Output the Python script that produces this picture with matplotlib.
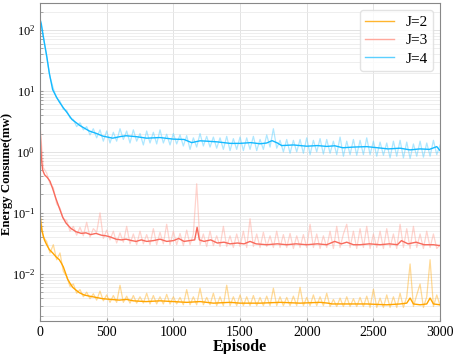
import numpy as np
import matplotlib
matplotlib.use('Agg')
import matplotlib.pyplot as plt

# raw energy per episode, sampled every 25 episodes
episodes = np.arange(0, 3001, 25)

raw_j2 = [0.1, 0.04, 0.034, 0.022, 0.03, 0.017, 0.022, 0.011, 0.009, 0.0062,
          0.0068, 0.0048, 0.0055, 0.0042, 0.005, 0.0039, 0.0047, 0.0037, 0.0052, 0.0036,
          0.0045, 0.0034, 0.0044, 0.0034, 0.0065, 0.0034, 0.0043, 0.0033, 0.0044, 0.0033,
          0.0042, 0.0033, 0.0048, 0.0032, 0.0044, 0.0032, 0.0042, 0.0032, 0.0046, 0.0032,
          0.0042, 0.0032, 0.0041, 0.0031, 0.0055, 0.0031, 0.0042, 0.0031, 0.0058, 0.0031,
          0.0041, 0.0031, 0.0048, 0.003, 0.0042, 0.003, 0.0065, 0.003, 0.0042, 0.003,
          0.0045, 0.003, 0.0042, 0.003, 0.0044, 0.003, 0.0041, 0.003, 0.0043, 0.003,
          0.0058, 0.003, 0.0042, 0.003, 0.0041, 0.003, 0.0043, 0.003, 0.006, 0.003,
          0.0041, 0.003, 0.0045, 0.003, 0.0042, 0.003, 0.0048, 0.0029, 0.0038, 0.0029,
          0.004, 0.0029, 0.0042, 0.0029, 0.0039, 0.0029, 0.0041, 0.0029, 0.0043, 0.0028,
          0.0056, 0.0028, 0.004, 0.0028, 0.0045, 0.0028, 0.0042, 0.0028, 0.0048, 0.0028,
          0.0042, 0.0145, 0.0029, 0.0045, 0.0068, 0.0028, 0.0042, 0.017, 0.0029, 0.0045,
          0.003]

raw_j3 = [2.8, 0.55, 0.45, 0.30, 0.26, 0.14, 0.12, 0.08, 0.075, 0.05,
          0.06, 0.043, 0.058, 0.042, 0.07, 0.04, 0.055, 0.048, 0.1, 0.038,
          0.052, 0.036, 0.05, 0.032, 0.047, 0.033, 0.06, 0.031, 0.045, 0.03,
          0.05, 0.031, 0.044, 0.03, 0.055, 0.03, 0.048, 0.031, 0.065, 0.03,
          0.05, 0.03, 0.046, 0.029, 0.052, 0.03, 0.045, 0.30, 0.03, 0.045,
          0.028, 0.05, 0.029, 0.042, 0.028, 0.06, 0.028, 0.042, 0.027, 0.045,
          0.028, 0.05, 0.027, 0.08, 0.028, 0.045, 0.027, 0.048, 0.028, 0.042,
          0.027, 0.05, 0.027, 0.044, 0.027, 0.046, 0.026, 0.042, 0.027, 0.044,
          0.027, 0.065, 0.027, 0.045, 0.026, 0.042, 0.027, 0.05, 0.026, 0.06,
          0.027, 0.045, 0.065, 0.027, 0.05, 0.026, 0.055, 0.027, 0.06, 0.026,
          0.045, 0.027, 0.05, 0.026, 0.055, 0.027, 0.045, 0.026, 0.065, 0.027,
          0.055, 0.026, 0.06, 0.027, 0.045, 0.026, 0.05, 0.027, 0.045, 0.026,
          0.03]

raw_j4 = [160, 78, 36, 17, 11, 7.6, 6.8, 5.0, 4.8, 3.6,
          3.4, 2.6, 3.0, 2.3, 2.6, 1.9, 2.4, 1.7, 2.3, 1.5,
          2.2, 1.4, 2.1, 1.5, 2.4, 1.6, 2.2, 1.4, 2.3, 1.5,
          2.0, 1.3, 2.2, 1.4, 2.1, 1.35, 2.3, 1.4, 1.95, 1.3,
          2.0, 1.35, 1.9, 1.25, 1.85, 1.1, 1.7, 1.2, 2.0, 1.25,
          1.8, 1.2, 1.75, 1.15, 1.7, 1.1, 1.8, 1.05, 1.65, 1.1,
          1.75, 1.05, 1.7, 1.1, 1.8, 1.05, 1.6, 1.1, 1.9, 1.2,
          2.4, 1.15, 1.55, 1.0, 1.6, 0.95, 1.55, 1.0, 1.6, 0.95,
          1.7, 0.9, 1.55, 1.0, 1.65, 0.92, 1.6, 0.95, 1.5, 0.9,
          1.75, 0.85, 1.5, 0.9, 1.6, 0.88, 1.55, 0.9, 1.7, 0.9,
          1.5, 0.85, 1.45, 0.88, 1.4, 0.8, 1.5, 0.85, 1.55, 0.8,
          1.45, 0.78, 1.35, 0.85, 1.5, 0.82, 1.4, 0.85, 1.55, 0.9,
          1.3]

# smoothed curves
x2s = [0, 5, 15, 33, 50, 70, 95, 120, 145, 160, 175, 190, 207, 225, 245, 270, 295,
       330, 370, 420, 470, 530, 595, 650, 700, 795, 900, 1000, 1100, 1200, 1300, 1425,
       1500, 1650, 1800, 1950, 2100, 2160, 2190, 2300, 2450, 2600, 2700, 2750, 2775,
       2800, 2850, 2900, 2925, 2950, 3000]
y2s = [0.093, 0.07, 0.05, 0.036, 0.03, 0.025, 0.022, 0.019, 0.017, 0.015, 0.013,
       0.0105, 0.0082, 0.007, 0.006, 0.0054, 0.0049, 0.0045, 0.0043, 0.0041, 0.0039,
       0.0038, 0.0037, 0.0038, 0.0036, 0.0035, 0.0036, 0.0035, 0.0034, 0.0035, 0.0033,
       0.0034, 0.0033, 0.0033, 0.0034, 0.0033, 0.0034, 0.0033, 0.0032, 0.0032, 0.0032,
       0.0031, 0.0032, 0.0033, 0.0040, 0.0032, 0.0031, 0.0032, 0.0040, 0.0032, 0.0031]

x3s = [0, 5, 10, 20, 35, 55, 75, 95, 120, 145, 170, 195, 230, 270, 310, 345, 380,
       420, 460, 495, 530, 570, 610, 645, 690, 720, 760, 800, 850, 900, 950, 1000,
       1040, 1080, 1120, 1160, 1178, 1195, 1230, 1280, 1330, 1380, 1425, 1480, 1530,
       1575, 1620, 1700, 1780, 1850, 1920, 2000, 2080, 2150, 2210, 2260, 2300, 2350,
       2400, 2470, 2550, 2620, 2680, 2710, 2760, 2820, 2880, 2950, 3000]
y3s = [2.6, 1.4, 0.8, 0.5, 0.42, 0.38, 0.33, 0.25, 0.17, 0.12, 0.085, 0.068, 0.056,
       0.049, 0.046, 0.047, 0.044, 0.046, 0.043, 0.042, 0.040, 0.037, 0.036, 0.037,
       0.035, 0.034, 0.036, 0.034, 0.035, 0.037, 0.034, 0.035, 0.038, 0.034, 0.035,
       0.036, 0.058, 0.036, 0.034, 0.036, 0.032, 0.033, 0.031, 0.032, 0.031, 0.034,
       0.031, 0.030, 0.031, 0.030, 0.031, 0.030, 0.031, 0.030, 0.034, 0.031, 0.033,
       0.030, 0.030, 0.031, 0.030, 0.031, 0.030, 0.035, 0.031, 0.033, 0.030, 0.030,
       0.029]

x4s = [0, 10, 20, 35, 50, 70, 95, 120, 145, 175, 200, 240, 300, 370, 425, 470, 545,
       600, 645, 720, 800, 900, 1000, 1080, 1137, 1200, 1250, 1330, 1425, 1500, 1580,
       1650, 1700, 1740, 1780, 1812, 1900, 2000, 2080, 2150, 2210, 2270, 2350, 2450,
       2530, 2610, 2700, 2775, 2850, 2920, 2975, 3000]
y4s = [150, 125, 90, 58, 38, 19.5, 10.5, 8.2, 6.6, 5.3, 4.5, 3.4, 2.7, 2.2, 2.0,
       1.82, 1.68, 1.78, 1.84, 1.78, 1.68, 1.72, 1.62, 1.6, 1.42, 1.52, 1.5, 1.46,
       1.38, 1.38, 1.42, 1.36, 1.4, 1.53, 1.4, 1.27, 1.3, 1.24, 1.27, 1.23, 1.26, 1.17,
       1.2, 1.22, 1.17, 1.12, 1.15, 1.08, 1.12, 1.1, 1.22, 1.05]

labels = ['J=2', 'J=3', 'J=4']
light = ['#ffb52e', '#ffa89c', '#5cd0ff']
dark = ['#ffa500', '#f86a5c', '#14b9ff']

plt.rcParams['font.family'] = ['Liberation Serif', 'DejaVu Serif']
plt.rcParams['mathtext.fontset'] = 'stix'

fig = plt.figure(figsize=(4.57, 3.54), dpi=100)
ax = fig.add_axes([0.0875, 0.094, 0.8755, 0.897])

raws = [raw_j2, raw_j3, raw_j4]
smooths = [(x2s, y2s), (x3s, y3s), (x4s, y4s)]
for i in range(3):
    ax.plot(episodes, raws[i], color=light[i], alpha=0.5, linewidth=0.9)
for i in range(3):
    ax.plot(smooths[i][0], smooths[i][1], color=dark[i], linewidth=1.0)

# legend uses the light lines
handles = [plt.Line2D([], [], color=light[i], linewidth=1.0) for i in range(3)]
leg = ax.legend(handles, labels, loc='upper right', fontsize=11, handlelength=1.9,
                labelspacing=0.3, borderpad=0.35, handletextpad=0.75,
                borderaxespad=0.45)
leg.get_frame().set_edgecolor('#dddddd')

ax.set_yscale('log')
ax.set_xlim(0, 3000)
ax.set_ylim(10**-2.77, 10**2.44)
ax.set_xticks([0, 500, 1000, 1500, 2000, 2500, 3000])
ax.grid(True, which='major', color='#e3e3e3', linewidth=0.7)
ax.grid(True, which='minor', axis='y', color='#ebebeb', linewidth=0.6)
ax.tick_params(direction='in', which='both', length=2, color='#999999')
ax.tick_params(axis='x', labelsize=10)
ax.tick_params(axis='y', labelsize=9)
for s in ax.spines.values():
    s.set_color('#888888')

ax.set_xlabel('Episode', fontsize=11.5, fontweight='bold', labelpad=0)
ax.set_ylabel('Energy Consume(mw)', fontsize=9.2, fontweight='bold')
ax.yaxis.set_label_coords(-0.068, 0.462)

fig.savefig('out.png', dpi=100)
